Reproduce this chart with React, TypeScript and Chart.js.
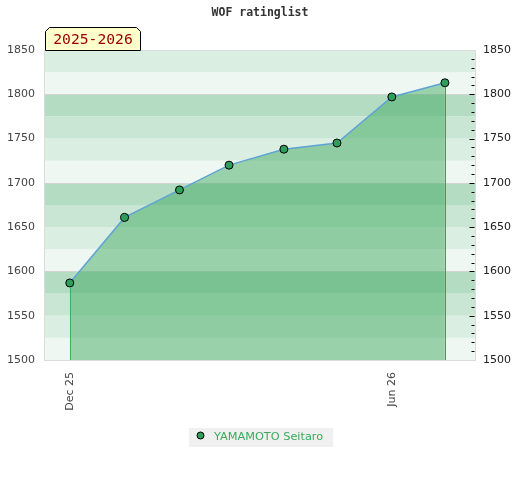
import React, { useEffect, useRef } from "react";
import { Chart, registerables } from "chart.js";

Chart.register(...registerables);

// ---- data ----
const pointDates = [
  "2025-12-01",
  "2026-01-01",
  "2026-02-01",
  "2026-03-01",
  "2026-04-01",
  "2026-05-01",
  "2026-06-01",
  "2026-07-01",
];
const ratings = [1587, 1661, 1692, 1720, 1738, 1745, 1797, 1813];
const tickDates = ["2025-12-01", "2026-06-01"];
const tickLabels = ["Dec 25", "Jun 26"];
const seriesName = "YAMAMOTO Seitaro";
const titleText = "WOF ratinglist";
const seasonText = "2025-2026";
const yMin = 1500;
const yMax = 1850;
const xRangeDates = ["2025-11-17", "2026-07-18"];

const BASE = Date.UTC(2025, 11, 1);
const toDay = (s: string) => {
  const [y, m, d] = s.split("-").map(Number);
  return Math.round((Date.UTC(y, m - 1, d) - BASE) / 86400000);
};

const bandColors = ["#eef7f1", "#dbeee2", "#c8e6d3", "#b3dcc2"];

const decorPlugin = {
  id: "decor",
  beforeDraw(chart: any) {
    const { ctx, chartArea } = chart;
    const ys = chart.scales.y;
    const { left, right, top, bottom } = chartArea;
    ctx.save();
    // bands
    for (let v = yMin; v < yMax; v += 25) {
      const idx = ((v % 100) / 25) | 0;
      const y1 = ys.getPixelForValue(v + 25);
      const y2 = ys.getPixelForValue(v);
      ctx.fillStyle = bandColors[idx];
      ctx.fillRect(left, y1, right - left, y2 - y1);
    }
    // grid lines every 100
    ctx.strokeStyle = "#d4d4d4";
    ctx.lineWidth = 1;
    for (let v = 1600; v < yMax; v += 100) {
      const y = Math.round(ys.getPixelForValue(v)) + 0.5;
      ctx.beginPath();
      ctx.moveTo(left, y);
      ctx.lineTo(right, y);
      ctx.stroke();
    }
    // plot border
    ctx.strokeStyle = "#dcdcdc";
    ctx.strokeRect(left - 0.5, top + 0.5, right - left + 1, bottom - top);
    ctx.restore();

    // title
    ctx.save();
    ctx.fillStyle = "#333";
    ctx.font = "bold 11.5px 'DejaVu Sans Mono'";
    ctx.textAlign = "center";
    ctx.textBaseline = "middle";
    ctx.fillText(titleText, chart.width / 2, 13);
    ctx.restore();

    // legend
    ctx.save();
    ctx.font = "11.3px 'DejaVu Sans'";
    const tw = ctx.measureText(seriesName).width;
    const lx = 189;
    const ly = 428;
    const lw = tw + 35;
    ctx.fillStyle = "#f0f0f0";
    ctx.fillRect(lx, ly, lw, 19);
    ctx.beginPath();
    ctx.arc(lx + 11.5, ly + 7.5, 3.5, 0, Math.PI * 2);
    ctx.fillStyle = "#2e9e5b";
    ctx.fill();
    ctx.strokeStyle = "#000";
    ctx.lineWidth = 1;
    ctx.stroke();
    ctx.fillStyle = "#3aaa5e";
    ctx.textAlign = "left";
    ctx.textBaseline = "middle";
    ctx.fillText(seriesName, lx + 25, ly + 9);
    ctx.restore();
  },
  afterDatasetsDraw(chart: any) {
    const { ctx, chartArea } = chart;
    const ys = chart.scales.y;
    const xs = chart.scales.x;
    ctx.save();
    // end verticals
    ctx.lineWidth = 1;
    const endColors = ["#3cb060", "#3a9d5a"];
    [0, ratings.length - 1].forEach((i, k) => {
      const x = Math.round(xs.getPixelForValue(toDay(pointDates[i]))) + 0.5;
      ctx.strokeStyle = endColors[k];
      ctx.beginPath();
      ctx.moveTo(x, ys.getPixelForValue(ratings[i]) + 4);
      ctx.lineTo(x, chartArea.bottom);
      ctx.stroke();
    });
    // right-side tick marks
    ctx.strokeStyle = "#000";
    for (let v = yMin + 10; v < yMax; v += 10) {
      const y = Math.round(ys.getPixelForValue(v)) + 0.5;
      const len = v % 50 === 0 ? 5 : 3;
      ctx.beginPath();
      ctx.moveTo(chartArea.right - len - 0.5, y);
      ctx.lineTo(chartArea.right - 0.5, y);
      ctx.stroke();
    }
    ctx.restore();

    // season box
    ctx.save();
    const bx = 45.5, by = 27.5, bw = 95, bh = 23, c = 4;
    ctx.beginPath();
    ctx.moveTo(bx, by + bh);
    ctx.lineTo(bx, by + c);
    ctx.lineTo(bx + c, by);
    ctx.lineTo(bx + bw - c, by);
    ctx.lineTo(bx + bw, by + c);
    ctx.lineTo(bx + bw, by + bh);
    ctx.closePath();
    ctx.fillStyle = "#ffffcc";
    ctx.fill();
    ctx.strokeStyle = "#000";
    ctx.lineWidth = 1;
    ctx.stroke();
    ctx.fillStyle = "#990000";
    ctx.font = "14.7px 'DejaVu Sans Mono'";
    ctx.textAlign = "center";
    ctx.textBaseline = "middle";
    ctx.fillText(seasonText, bx + bw / 2, by + bh / 2 + 1);
    ctx.restore();
  },
};

export default function App() {
  const ref = useRef<HTMLCanvasElement>(null);
  useEffect(() => {
    if (!ref.current) return;
    const tickDays = tickDates.map(toDay);
    const axisFont = { family: "'DejaVu Sans'", size: 11 };
    const plain = (v: any) => String(v);
    const chart = new Chart(ref.current, {
      type: "line",
      data: {
        datasets: [
          {
            label: seriesName,
            data: pointDates.map((d, i) => ({ x: toDay(d), y: ratings[i] })),
            borderColor: "#5fa3d6",
            borderWidth: 1.5,
            backgroundColor: "rgba(57,166,90,0.47)",
            fill: "start",
            tension: 0,
            pointRadius: 4,
            pointHoverRadius: 4,
            pointBackgroundColor: "#2e9e5b",
            pointBorderColor: "#000",
            pointBorderWidth: 1,
          },
        ],
      },
      options: {
        animation: false,
        responsive: false,
        devicePixelRatio: 1,
        layout: { padding: { top: 50, left: 0, right: 0, bottom: 0 } },
        plugins: {
          legend: { display: false },
          title: { display: false },
          tooltip: { enabled: false },
        },
        scales: {
          x: {
            type: "linear",
            min: toDay(xRangeDates[0]),
            max: toDay(xRangeDates[1]),
            grid: { display: false, drawTicks: false, tickLength: 0 },
            border: { display: false },
            afterBuildTicks: (scale: any) => {
              scale.ticks = tickDays.map((v) => ({ value: v }));
            },
            afterFit: (scale: any) => {
              scale.height = 120;
            },
            ticks: {
              autoSkip: false,
              minRotation: 90,
              maxRotation: 90,
              padding: 12,
              color: "#444",
              font: axisFont,
              callback: (v: any) => {
                const i = tickDays.indexOf(Number(v));
                return i >= 0 ? tickLabels[i] : "";
              },
            },
          },
          y: {
            position: "left",
            min: yMin,
            max: yMax,
            grid: { display: false, drawTicks: false, tickLength: 0 },
            border: { display: false },
            afterFit: (scale: any) => {
              scale.width = 45;
            },
            ticks: { stepSize: 50, padding: 10, color: "#444", font: axisFont, callback: plain },
          },
          y2: {
            position: "right",
            min: yMin,
            max: yMax,
            grid: { display: false, drawTicks: false, tickLength: 0 },
            border: { display: false },
            afterFit: (scale: any) => {
              scale.width = 45;
            },
            ticks: { stepSize: 50, padding: 8, color: "#222", font: axisFont, callback: plain },
          },
        },
      },
      plugins: [decorPlugin],
    } as any);
    return () => chart.destroy();
  }, []);
  return (
    <div style={{ position: "absolute", left: 0, top: 0, width: 520, height: 480 }}>
      <canvas ref={ref} width={520} height={480} style={{ width: 520, height: 480 }} />
    </div>
  );
}
